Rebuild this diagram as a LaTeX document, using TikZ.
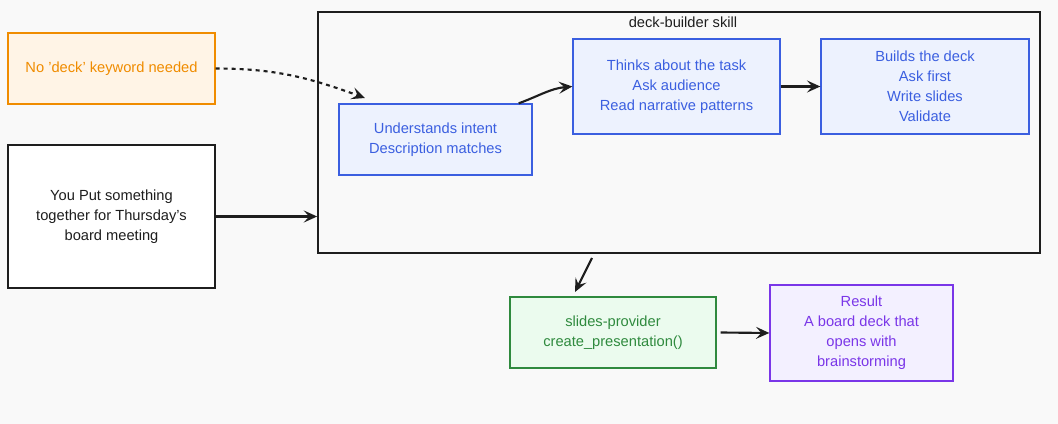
\documentclass[tikz,border=0pt]{standalone}
\usepackage{fontspec}
\setmainfont{Liberation Sans}
\usetikzlibrary{arrows.meta}
\definecolor{bg}{HTML}{F9F9F9}
\definecolor{orS}{HTML}{F08C00}\definecolor{orF}{HTML}{FFF4E6}
\definecolor{blS}{HTML}{3B5FE0}\definecolor{blF}{HTML}{EDF2FE}
\definecolor{grS}{HTML}{2F8A3E}\definecolor{grF}{HTML}{EBFBEE}
\definecolor{puS}{HTML}{7A36E8}\definecolor{puF}{HTML}{F3F0FF}
\definecolor{dk}{HTML}{1E1E1E}
\begin{document}
\begin{tikzpicture}[x=0.75pt,y=-0.75pt,
 box/.style={draw,line width=1pt,align=center,font=\fontsize{11}{15}\selectfont,inner sep=0pt},
 arr/.style={-{Stealth[length=10pt,width=9pt,inset=4pt]},line width=1.6pt,dk}]
\fill[bg] (0,0) rectangle (1058,424);
\useasboundingbox (0,0) rectangle (1058,424);
\newcommand\bx[7]{\node[box,draw=#5,fill=#6,text=#7,minimum width=(#3-#1)*0.75pt,minimum height=(#4-#2)*0.75pt] at ({(#1+#3)/2},{(#2+#4)/2})}
\bx{8}{33}{215}{104}{orS}{orF}{orS} (nodeck) {No 'deck' keyword needed};
\bx{8}{145}{215}{288}{dk}{white}{dk} (you) {You Put something\\together for Thursday's\\board meeting};
\node[draw=dk,line width=1.3pt,minimum width=722*0.75pt,minimum height=241*0.75pt,inner sep=0pt] (frame) at (679,132.5) {};
\node[font=\fontsize{11}{15}\selectfont,text=dk] (title) at (683,22) {deck-builder skill};
\bx{339}{104}{532}{175}{blS}{blF}{blS} (b1) {Understands intent\\Description matches};
\bx{573}{39}{780}{134}{blS}{blF}{blS} (b2) {Thinks about the task\\Ask audience\\Read narrative patterns};
\bx{821}{39}{1029}{134}{blS}{blF}{blS} (b3) {Builds the deck\\Ask first\\Write slides\\Validate};
\bx{510}{297}{716}{368}{grS}{grF}{grS} (g) {slides-provider\\create\_presentation()};
\bx{770}{285}{953}{381}{puS}{puF}{puS} (p) {Result\\A board deck that\\opens with\\brainstorming};
\coordinate (d1) at (365,98);
\draw[arr,dashed] (nodeck.east) to[out=0,in=160] (d1);
\draw[arr] (you.east) -- (frame.west|-you.east);
\draw[arr] (b1.north east) ++(-14,0) to[out=20,in=185] (b2.west);
\draw[arr] (b2.east) -- (b3.west);
\coordinate (f1) at (592,258);
\coordinate (g1) at (575,292);
\draw[arr] (f1) -- (g1);
\draw[arr] (g.east) ++(4,0) -- (p.west);
\end{tikzpicture}
\end{document}
